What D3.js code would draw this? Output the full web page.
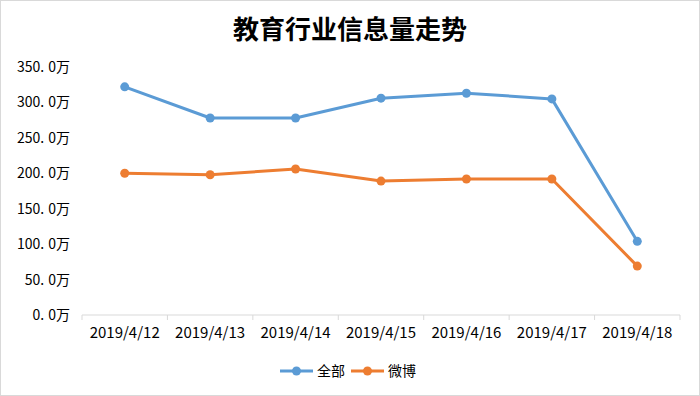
<!DOCTYPE html>
<html>
<head>
<meta charset="utf-8">
<script src="https://cdn.jsdelivr.net/npm/d3@7"></script>
<style>
  body { margin: 0; background: #fff; }
  text { font-family: "Noto Sans CJK SC", "Microsoft YaHei", sans-serif; }
</style>
</head>
<body>
<svg id="chart" width="700" height="396"></svg>
<script>
// chart data
const dates = ["2019/4/12", "2019/4/13", "2019/4/14", "2019/4/15", "2019/4/16", "2019/4/17", "2019/4/18"];
const allValues = [322, 278, 278, 306, 313, 305, 104];
const weiboValues = [200, 198, 206, 189, 192, 192, 69];
const seriesNames = ["全部", "微博"];
const yTicks = [0, 50, 100, 150, 200, 250, 300, 350];

const COLOR_ALL = "#5b9bd5";
const COLOR_WEIBO = "#ed7d31";
const AXIS_COLOR = "#d9d9d9";

const width = 700,
    height = 396,
    margin = { top: 67, right: 20, bottom: 81, left: 82 };

const svg = d3.select("#chart");

// outer border
svg.append("rect")
    .attr("x", 0.5).attr("y", 0.5)
    .attr("width", width - 1).attr("height", height - 1)
    .attr("fill", "#fff")
    .attr("stroke", AXIS_COLOR);

// title
svg.append("text")
    .attr("x", width / 2)
    .attr("y", 39)
    .attr("text-anchor", "middle")
    .attr("font-size", 26)
    .attr("font-weight", "bold")
    .attr("fill", "#000")
    .text("教育行业信息量走势");

const x = d3.scaleBand()
    .domain(dates)
    .range([margin.left, width - margin.right]);

const y = d3.scaleLinear()
    .domain([0, 350])
    .range([height - margin.bottom, margin.top]);

// x axis
const xAxis = svg.append("g")
    .attr("transform", `translate(0, ${y(0)})`);
xAxis.append("line")
    .attr("x1", x.range()[0]).attr("x2", x.range()[1])
    .attr("stroke", AXIS_COLOR);
// tick marks at category boundaries
xAxis.selectAll(".tick-mark")
    .data(dates.concat([null]))
    .join("line")
    .attr("class", "tick-mark")
    .attr("x1", (d, i) => i < dates.length ? x(d) : x.range()[1])
    .attr("x2", (d, i) => i < dates.length ? x(d) : x.range()[1])
    .attr("y1", 0).attr("y2", 5)
    .attr("stroke", AXIS_COLOR);
xAxis.selectAll(".tick-label")
    .data(dates)
    .join("text")
    .attr("class", "tick-label")
    .attr("x", d => x(d) + x.bandwidth() / 2)
    .attr("y", 23)
    .attr("text-anchor", "middle")
    .attr("font-size", 15)
    .attr("fill", "#000")
    .text(d => d);

// y axis labels (no line, no grid); gap after the dot like the original
const yLabels = svg.append("g")
    .selectAll("text")
    .data(yTicks)
    .join("text")
    .attr("x", 70)
    .attr("y", d => y(d) + 5)
    .attr("text-anchor", "end")
    .attr("font-size", 14)
    .attr("fill", "#000");
yLabels.append("tspan").text(d => d3.format("d")(d) + ".");
yLabels.append("tspan").attr("dx", 4).text("0万");

// series lines
const series = [
    { name: seriesNames[0], values: allValues, color: COLOR_ALL },
    { name: seriesNames[1], values: weiboValues, color: COLOR_WEIBO }
];

const line = d3.line()
    .x((d, i) => x(dates[i]) + x.bandwidth() / 2)
    .y(d => y(d));

series.forEach(s => {
    const g = svg.append("g");
    g.append("path")
        .attr("d", line(s.values))
        .attr("fill", "none")
        .attr("stroke", s.color)
        .attr("stroke-width", 3)
        .attr("stroke-linejoin", "round");
    g.selectAll("circle")
        .data(s.values)
        .join("circle")
        .attr("cx", (d, i) => x(dates[i]) + x.bandwidth() / 2)
        .attr("cy", d => y(d))
        .attr("r", 4.5)
        .attr("fill", s.color);
});

// legend
const legendItems = [
    { name: seriesNames[0], color: COLOR_ALL, x: 280 },
    { name: seriesNames[1], color: COLOR_WEIBO, x: 351 }
];
const legend = svg.append("g").attr("transform", "translate(0, 371)");
legendItems.forEach(item => {
    legend.append("line")
        .attr("x1", item.x).attr("x2", item.x + 33)
        .attr("stroke", item.color)
        .attr("stroke-width", 3);
    legend.append("circle")
        .attr("cx", item.x + 16.5).attr("cy", 0)
        .attr("r", 4.5)
        .attr("fill", item.color);
    legend.append("text")
        .attr("x", item.x + 37)
        .attr("y", 5)
        .attr("font-size", 14)
        .attr("fill", "#000")
        .text(item.name);
});
</script>
</body>
</html>
